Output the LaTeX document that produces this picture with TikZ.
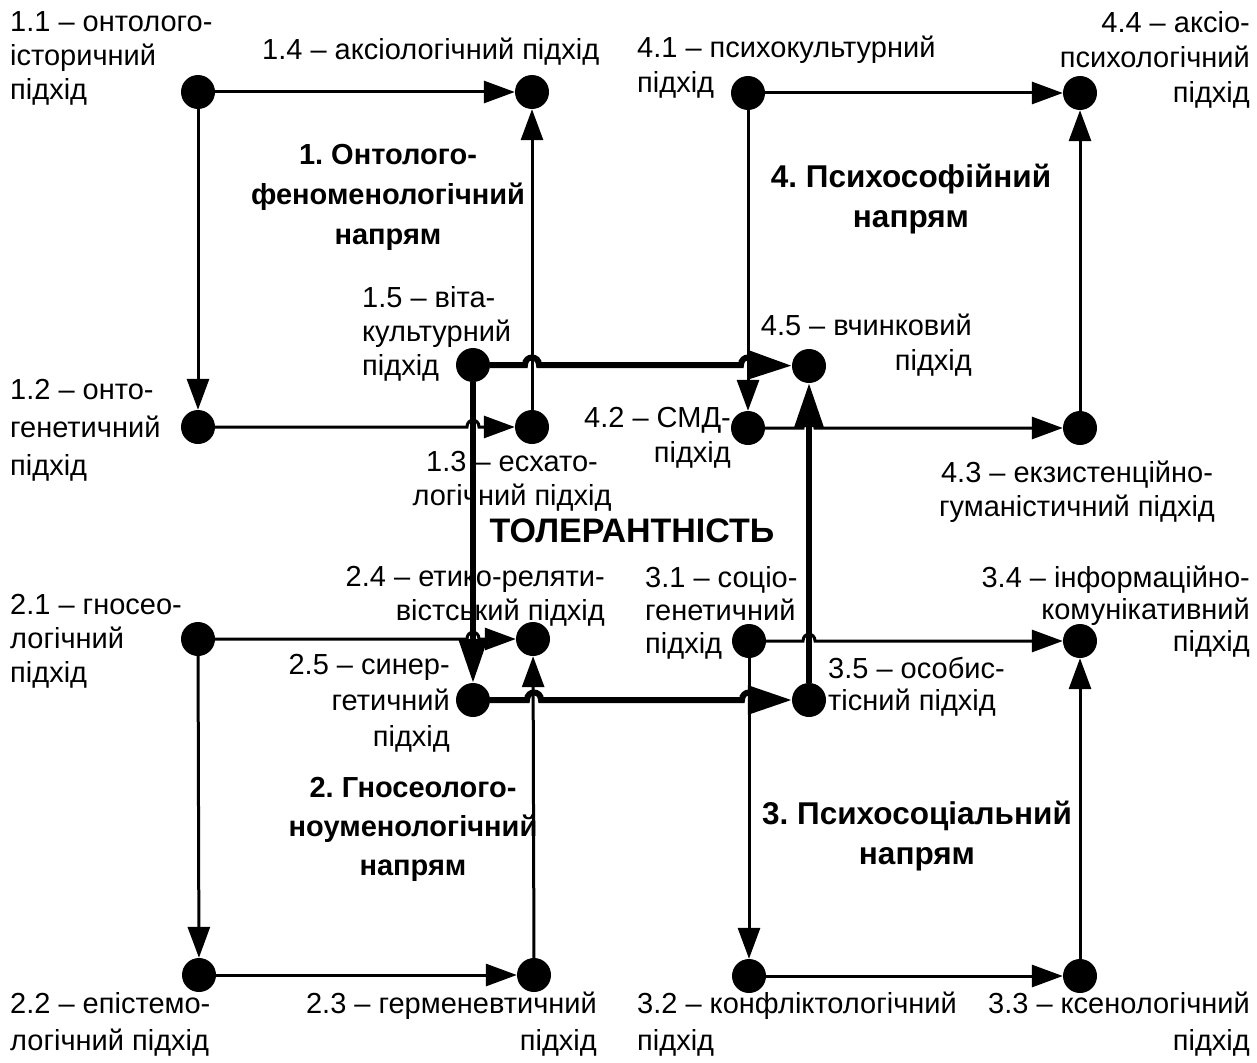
\documentclass[tikz,border=0pt]{standalone}
\usepackage{fontspec}
\setmainfont{Liberation Sans}
\usetikzlibrary{arrows.meta,calc}
\frenchspacing
\begin{document}
\begin{tikzpicture}[x=1pt,y=-1pt,
  dot/.style={circle,fill=black,inner sep=0pt,minimum size=34pt},
  lnA/.style={line width=3pt,-{Triangle[length=31pt,width=22pt]}},
  lnB/.style={line width=6pt,-{Triangle[length=44pt,width=28pt]}},
  lbl/.style={font=\fontsize{29}{34}\selectfont,inner sep=0pt},
  ttl/.style={font=\fontsize{29}{40}\selectfont\bfseries,align=center,inner sep=0pt}]
\useasboundingbox (0,0) rectangle (1257,1062);
% dots
\node[dot] (d11) at (198,92) {};
\node[dot] (d14) at (532,92) {};
\node[dot] (d12) at (198,427) {};
\node[dot] (d13) at (532,427) {};
\node[dot] (d15) at (473,365) {};
\node[dot] (d41) at (748,93) {};
\node[dot] (d44) at (1080,93) {};
\node[dot] (d42) at (748,428) {};
\node[dot] (d43) at (1080,428) {};
\node[dot] (d45) at (809,366) {};
\node[dot] (d21) at (198,639) {};
\node[dot] (d24) at (533,639) {};
\node[dot] (d22) at (199,975) {};
\node[dot] (d23) at (534,975) {};
\node[dot] (d25) at (473,700) {};
\node[dot] (d31) at (749,641) {};
\node[dot] (d34) at (1080,641) {};
\node[dot] (d32) at (749,976) {};
\node[dot] (d33) at (1080,976) {};
\node[dot] (d35) at (809,700) {};
% hop points
\coordinate (h1) at (d12 -| d15);
\coordinate (h2) at (d15 -| d13);
\coordinate (h3) at (d15 -| d41);
\coordinate (h4) at (d42 -| d45);
\coordinate (h5) at (d21 -| d15);
\coordinate (h6) at (d25 -| d23);
\coordinate (h7) at (d25 -| d31);
\coordinate (h8) at (d31 -| d35);
% square 1
\draw[lnA] (d11) -- (d14);
\draw[lnA] (d11) -- (d12);
\draw[lnA] (d13) -- (d14);
\draw[lnA] (d12) -- ($(h1)+(-6,0)$) .. controls ($(h1)+(-6,-9)$) and ($(h1)+(6,-9)$) .. ($(h1)+(6,0)$) -- (d13);
% square 4
\draw[lnA] (d41) -- (d44);
\draw[lnA] (d41) -- (d42);
\draw[lnA] (d43) -- (d44);
\draw[lnA] (d42) -- ($(h4)+(-6,0)$) .. controls ($(h4)+(-6,-9)$) and ($(h4)+(6,-9)$) .. ($(h4)+(6,0)$) -- (d43);
% square 2
\draw[lnA] (d21) -- ($(h5)+(-6,0)$) .. controls ($(h5)+(-6,-9)$) and ($(h5)+(6,-9)$) .. ($(h5)+(6,0)$) -- (d24);
\draw[lnA] (d21) -- (d22);
\draw[lnA] (d22) -- (d23);
\draw[lnA] (d23) -- (d24);
% square 3
\draw[lnA] (d31) -- ($(h8)+(-6,0)$) .. controls ($(h8)+(-6,-9)$) and ($(h8)+(6,-9)$) .. ($(h8)+(6,0)$) -- (d34);
\draw[lnA] (d31) -- (d32);
\draw[lnA] (d32) -- (d33);
\draw[lnA] (d33) -- (d34);
% thick central square
\draw[lnB] (d15) -- ($(h2)+(-7,0)$) .. controls ($(h2)+(-7,-10)$) and ($(h2)+(7,-10)$) .. ($(h2)+(7,0)$)
  -- ($(h3)+(-7,0)$) .. controls ($(h3)+(-7,-10)$) and ($(h3)+(7,-10)$) .. ($(h3)+(7,0)$) -- (d45);
\draw[lnB] (d15) -- (d25);
\draw[lnB] (d25) -- ($(h6)+(-7,0)$) .. controls ($(h6)+(-7,-10)$) and ($(h6)+(7,-10)$) .. ($(h6)+(7,0)$)
  -- ($(h7)+(-7,0)$) .. controls ($(h7)+(-7,-10)$) and ($(h7)+(7,-10)$) .. ($(h7)+(7,0)$) -- (d35);
\draw[lnB] (d35) -- (d45);
% labels
\node[lbl,anchor=north west,align=left] (l11) at (10,11) {1.1 – онтолого-\\історичний\\підхід};
\node[lbl,anchor=base west] (l14) at (262,60) {1.4 – аксіологічний підхід};
\node[ttl,anchor=north] (t1) at (388,144) {1. Онтолого-\\феноменологічний\\напрям};
\node[lbl,anchor=north west,align=left] (l15) at (362,286) {1.5 – віта-\\культурний\\підхід};
\node[lbl,anchor=north west,align=left,font=\fontsize{29}{38}\selectfont] (l12) at (10,379) {1.2 – онто-\\генетичний\\підхід};
\node[lbl,anchor=north,align=center] (l13) at (512,451) {1.3 – есхато-\\логічний підхід};
\node[ttl,anchor=base,font=\fontsize{34}{40}\selectfont\bfseries] (tol) at (632,542) {ТОЛЕРАНТНІСТЬ};
\node[lbl,anchor=north east,align=right] (l24) at (605,566) {2.4 – етико-реляти-\\вістський підхід};
\node[lbl,anchor=north west,align=left] (l21) at (10,594) {2.1 – гносео-\\логічний\\підхід};
\node[lbl,anchor=north east,align=right,font=\fontsize{29}{36}\selectfont] (l25) at (450,654) {2.5 – синер-\\гетичний\\підхід};
\node[ttl,anchor=north,font=\fontsize{29}{39}\selectfont\bfseries] (t2) at (413,777) {2. Гносеолого-\\ноуменологічний\\напрям};
\node[lbl,anchor=north west,align=left,font=\fontsize{29}{37}\selectfont] (l22) at (10,992) {2.2 – епістемо-\\логічний підхід};
\node[lbl,anchor=north east,align=right,font=\fontsize{29}{37}\selectfont] (l23) at (597,992) {2.3 – герменевтичний\\підхід};
\node[lbl,anchor=north west,align=left,font=\fontsize{29}{33}\selectfont] (l31) at (645,566) {3.1 – соціо-\\генетичний\\підхід};
\node[lbl,anchor=north east,align=right,font=\fontsize{29}{32}\selectfont] (l34) at (1250,566) {3.4 – інформаційно-\\комунікативний\\підхід};
\node[lbl,anchor=north west,align=left,font=\fontsize{29}{32}\selectfont] (l35) at (828,657) {3.5 – особис-\\тісний підхід};
\node[ttl,anchor=north,font=\fontsize{31.5}{40}\selectfont\bfseries] (t3) at (917,801) {3. Психосоціальний\\напрям};
\node[lbl,anchor=north west,align=left,font=\fontsize{29}{37}\selectfont] (l32) at (637,992) {3.2 – конфліктологічний\\підхід};
\node[lbl,anchor=north east,align=right,font=\fontsize{29}{37}\selectfont] (l33) at (1250,992) {3.3 – ксенологічний\\підхід};
\node[lbl,anchor=north west,align=left,font=\fontsize{29}{35}\selectfont] (l41) at (637,36) {4.1 – психокультурний\\підхід};
\node[lbl,anchor=north east,align=right,font=\fontsize{29}{35}\selectfont] (l44) at (1250,11) {4.4 – аксіо-\\психологічний\\підхід};
\node[ttl,anchor=north,font=\fontsize{31.5}{40}\selectfont\bfseries] (t4) at (911,164) {4. Психософійний\\напрям};
\node[lbl,anchor=north east,align=right,font=\fontsize{29}{35}\selectfont] (l45) at (972,314) {4.5 – вчинковий\\підхід};
\node[lbl,anchor=north east,align=right,font=\fontsize{29}{35}\selectfont] (l42) at (731,407) {4.2 – СМД-\\підхід};
\node[lbl,anchor=north,align=center,font=\fontsize{29}{34}\selectfont] (l43) at (1077,461) {4.3 – екзистенційно-\\гуманістичний підхід};
\end{tikzpicture}
\end{document}
